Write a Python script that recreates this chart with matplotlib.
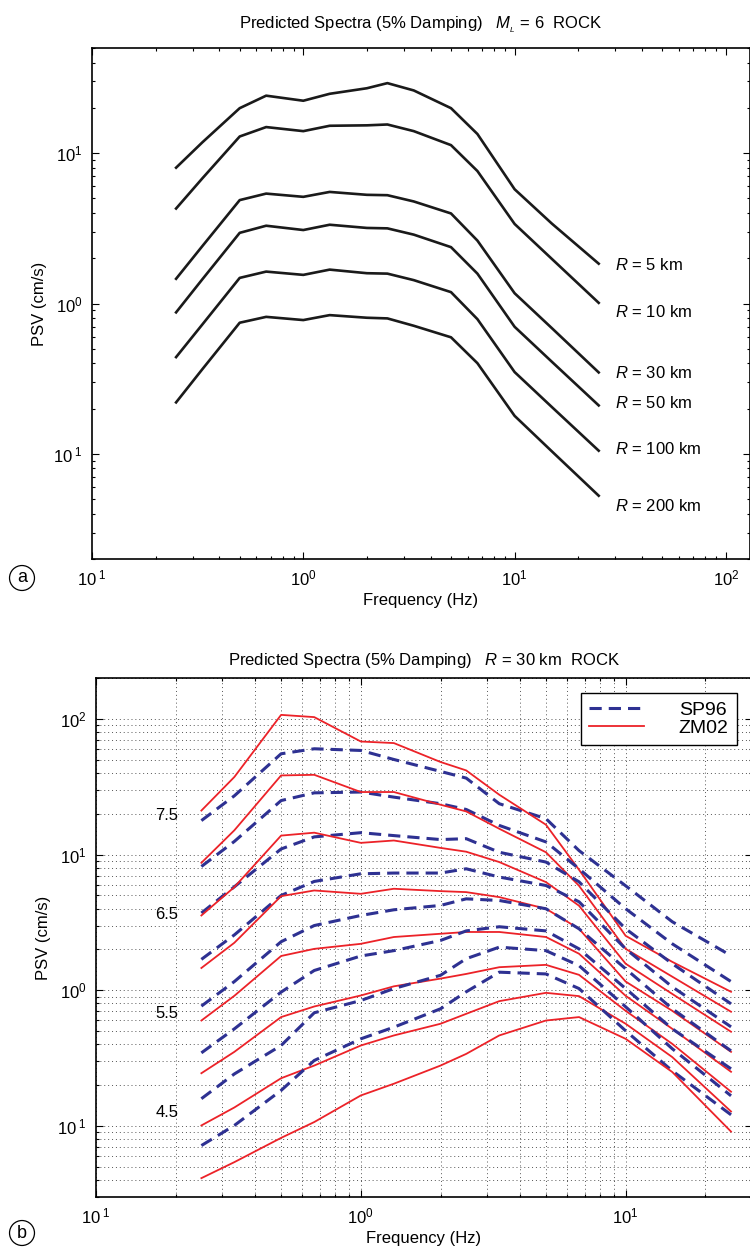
import numpy as np
import matplotlib
matplotlib.use('Agg')
import matplotlib.pyplot as plt
from matplotlib.ticker import FuncFormatter, NullFormatter, LogLocator

plt.rcParams['font.family'] = ['Liberation Sans', 'DejaVu Sans']
plt.rcParams['mathtext.fontset'] = 'custom'
plt.rcParams['mathtext.rm'] = 'Liberation Sans'
plt.rcParams['mathtext.it'] = 'Liberation Sans:italic'

# frequencies (Hz) shared by both panels
freqs = [0.25, 0.333, 0.5, 0.667, 1.0, 1.333, 2.0, 2.5, 3.333, 5.0, 6.667, 10.0, 15.0, 25.0]

# panel a: ML = 6, rock, PSV (cm/s) for several distances
dist_labels = ['5', '10', '30', '50', '100', '200']
psv_r5 = [8.0, 11.8, 19.9, 24.1, 22.3, 24.8, 27.0, 29.2, 26.1, 19.9, 13.4, 5.75, 3.4, 1.84]
psv_r10 = [4.28, 6.8, 12.9, 14.9, 14.0, 15.2, 15.3, 15.5, 14.0, 11.3, 7.6, 3.38, 1.98, 1.01]
psv_r30 = [1.46, 2.41, 4.87, 5.38, 5.12, 5.52, 5.28, 5.25, 4.77, 3.97, 2.62, 1.17, 0.686, 0.348]
psv_r50 = [0.873, 1.45, 2.95, 3.29, 3.08, 3.34, 3.18, 3.16, 2.87, 2.37, 1.58, 0.70, 0.41, 0.21]
psv_r100 = [0.44, 0.726, 1.48, 1.63, 1.55, 1.68, 1.59, 1.58, 1.43, 1.19, 0.787, 0.35, 0.205, 0.105]
psv_r200 = [0.220, 0.366, 0.745, 0.815, 0.776, 0.837, 0.804, 0.796, 0.711, 0.596, 0.401, 0.179, 0.104, 0.0527]
psv_a = [psv_r5, psv_r10, psv_r30, psv_r50, psv_r100, psv_r200]

# panel b: R = 30 km, rock, magnitudes 7.5 ... 4.0
mags = ['7.5', '7.0', '6.5', '6.0', '5.5', '5.0', '4.5', '4.0']
zm02_m75 = [21.1, 37.3, 107, 103, 68.1, 66.3, 48.1, 41.7, 27.6, 16.6, 7.73, 2.52, 1.62, 0.975]
zm02_m70 = [8.70, 15.1, 38.3, 38.7, 28.9, 28.9, 23.3, 20.8, 15.5, 10.4, 5.89, 2.02, 1.26, 0.695]
zm02_m65 = [3.56, 5.76, 13.8, 14.5, 12.2, 12.7, 11.2, 10.5, 8.81, 6.27, 4.20, 1.57, 0.94, 0.495]
zm02_m60 = [1.46, 2.24, 4.94, 5.44, 5.14, 5.60, 5.38, 5.29, 4.86, 3.99, 2.84, 1.16, 0.706, 0.352]
zm02_m55 = [0.599, 0.911, 1.79, 2.02, 2.20, 2.47, 2.61, 2.69, 2.69, 2.47, 1.86, 0.911, 0.520, 0.251]
zm02_m50 = [0.245, 0.352, 0.635, 0.760, 0.916, 1.07, 1.22, 1.32, 1.48, 1.54, 1.30, 0.706, 0.403, 0.179]
zm02_m45 = [0.101, 0.137, 0.225, 0.279, 0.392, 0.465, 0.567, 0.671, 0.832, 0.958, 0.906, 0.567, 0.322, 0.128]
zm02_m40 = [0.0413, 0.0542, 0.0818, 0.107, 0.168, 0.205, 0.279, 0.340, 0.465, 0.599, 0.635, 0.439, 0.250, 0.091]
zm02 = [zm02_m75, zm02_m70, zm02_m65, zm02_m60, zm02_m55, zm02_m50, zm02_m45, zm02_m40]

sp96_m75 = [17.8, 27.1, 55.3, 60.2, 58.5, 50.2, 41.0, 36.6, 23.7, 18.4, 10.7, 5.89, 3.20, 1.80]
sp96_m70 = [8.17, 12.5, 25.0, 28.5, 28.9, 26.5, 23.7, 21.5, 16.4, 12.4, 7.86, 3.99, 2.20, 1.16]
sp96_m65 = [3.71, 5.79, 11.0, 13.5, 14.5, 13.8, 12.9, 13.1, 10.4, 8.81, 6.30, 2.84, 1.57, 0.795]
sp96_m60 = [1.69, 2.56, 5.00, 6.34, 7.22, 7.31, 7.31, 7.86, 6.83, 5.92, 4.49, 2.02, 1.06, 0.538]
sp96_m55 = [0.765, 1.16, 2.28, 3.00, 3.56, 3.92, 4.22, 4.72, 4.59, 3.99, 2.84, 1.44, 0.731, 0.358]
sp96_m50 = [0.346, 0.520, 0.97, 1.40, 1.79, 1.96, 2.33, 2.74, 2.94, 2.74, 2.02, 1.03, 0.520, 0.264]
sp96_m45 = [0.159, 0.242, 0.392, 0.683, 0.841, 1.03, 1.29, 1.71, 2.08, 1.96, 1.52, 0.756, 0.371, 0.167]
sp96_m40 = [0.0718, 0.101, 0.183, 0.304, 0.439, 0.535, 0.731, 0.975, 1.36, 1.32, 1.03, 0.503, 0.255, 0.121]
sp96 = [sp96_m75, sp96_m70, sp96_m65, sp96_m60, sp96_m55, sp96_m50, sp96_m45, sp96_m40]

# which magnitudes get a label at the left
mag_text = ['7.5', '6.5', '5.5', '4.5']


def exp_label(v, pos):
    e = int(round(np.log10(v)))
    if e < 0:
        # the minus sign is missing in the original figure
        return r'$10^{\ %d}$' % (-e)
    return r'$10^{%d}$' % e


def style_axis(ax):
    ax.set_xscale('log')
    ax.set_yscale('log')
    for a in (ax.xaxis, ax.yaxis):
        a.set_major_locator(LogLocator(base=10))
        a.set_minor_locator(LogLocator(base=10, subs=np.arange(2, 10)))
        a.set_major_formatter(FuncFormatter(exp_label))
        a.set_minor_formatter(NullFormatter())
    ax.tick_params(which='both', direction='in', top=True, right=True, labelsize=12, width=0.8)
    ax.tick_params(which='major', length=5, pad=7)
    ax.tick_params(which='minor', length=2.5)
    for s in ax.spines.values():
        s.set_linewidth(1.2)


fig = plt.figure(figsize=(7.5, 12.52), dpi=100)
W, H = 750.0, 1252.0

# ---- panel a
ax1 = fig.add_axes([92 / W, 1 - 559 / H, (750 - 92) / W, (559 - 48) / H])
style_axis(ax1)
for vals in psv_a:
    ax1.plot(freqs, vals, color='#1a1a1a', lw=1.9)
label_y = [1.79, 0.88, 0.345, 0.218, 0.108, 0.0453]
for d, yv in zip(dist_labels, label_y):
    ax1.text(30, yv, r'$R$ = %s km' % d, fontsize=12, va='center', ha='left')
ax1.set_xlim(0.1, 130)
ax1.set_ylim(0.02, 50)
ax1.set_xlabel('Frequency (Hz)', fontsize=12, labelpad=3)
ax1.set_ylabel('PSV (cm/s)', fontsize=12)
ax1.set_title(r'Predicted Spectra (5% Damping)   $M_{_L}$ = 6  ROCK', fontsize=12, pad=14)

# ---- panel b
ax2 = fig.add_axes([96 / W, 1 - 1197 / H, (752 - 96) / W, (1197 - 678) / H])
style_axis(ax2)
ax2.grid(True, which='both', color='#555555', lw=0.7, linestyle=(0, (1, 3)))
for i in range(len(mags)):
    ax2.plot(freqs, sp96[i], color='#2e3192', lw=2.2, dashes=(4.0, 2.3),
             label='SP96' if i == 0 else None)
    ax2.plot(freqs, zm02[i], color='#ec2228', lw=1.3,
             label='ZM02' if i == 0 else None)
for i, m in enumerate(mags):
    if m in mag_text:
        yv = np.sqrt(zm02[i][0] * sp96[i][0])
        ax2.text(0.205, yv, m, fontsize=12, ha='right', va='center')
ax2.set_xlim(0.1, 30)
ax2.set_ylim(0.03, 200)
ax2.set_xlabel('Frequency (Hz)', fontsize=12, labelpad=3)
ax2.set_ylabel('PSV (cm/s)', fontsize=12)
ax2.set_title(r'Predicted Spectra (5% Damping)   $R$ = 30 km  ROCK', fontsize=12, pad=9)
leg = ax2.legend(loc='upper right', fontsize=14, frameon=True, fancybox=False,
                 edgecolor='black', framealpha=1, handlelength=2.8,
                 handletextpad=1.8, labelspacing=0.0, borderpad=0.45,
                 borderaxespad=0.75)
leg.get_frame().set_linewidth(1.0)

# circled panel letters, level with the x tick labels
for letter, yp in (('a', 578), ('b', 1233)):
    fig.text(22 / W, 1 - yp / H, letter, fontsize=13, ha='center', va='center',
             bbox=dict(boxstyle='circle,pad=0.22', fc='white', ec='black', lw=0.9))

fig.savefig('out.png', dpi=100)
